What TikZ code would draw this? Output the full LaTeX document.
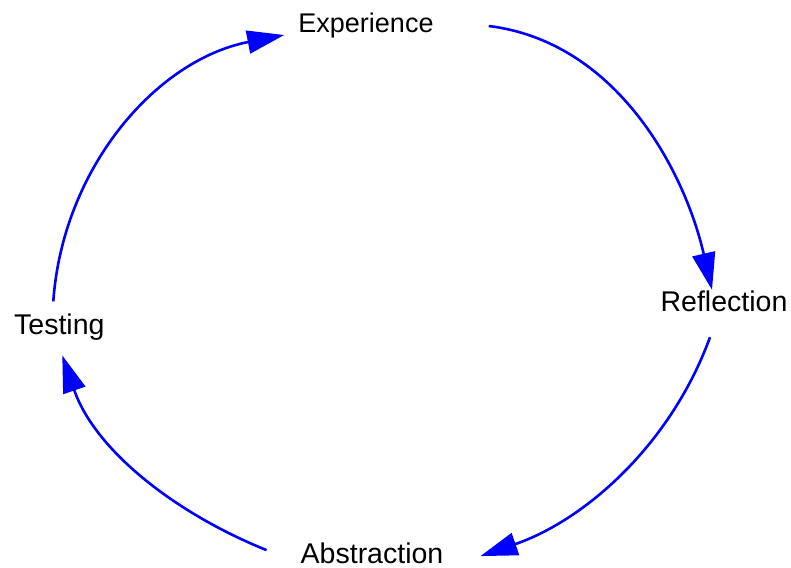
\documentclass[tikz,border=0pt]{standalone}
\usepackage{fontspec}
\setmainfont{Liberation Sans}
\usetikzlibrary{arrows.meta}

\begin{document}
\begin{tikzpicture}[x=1pt,y=1pt,>={Triangle[length=37pt,width=23pt]},
  lbl/.style={inner sep=0pt,anchor=base,font=\fontsize{28.5}{34}\selectfont},
  cyc/.style={->,blue,line width=2.6pt}]
\useasboundingbox (0,0) rectangle (791,567);
\node[lbl,font=\fontsize{27}{32}\selectfont] (exp) at (366,534) {Experience};
\node[lbl] (ref) at (724,255.3) {Reflection};
\node[lbl] (abs) at (372,3.7) {Abstraction};
\node[lbl] (tst) at (59.3,232.7) {Testing};
% the four arcs of the cycle
\draw[cyc] ([xshift=55]exp.east)
  .. controls +(-7:128) and +(103:124) .. ([shift={(-12,1)}]ref.north);
\draw[cyc] ([shift={(-14,-25)}]ref.south)
  .. controls +(250:114) and +(19:111) .. ([shift={(37,-3)}]abs.east);
\draw[cyc] ([shift={(-34,3)}]abs.west)
  .. controls +(158:101) and +(-71:99) .. ([shift={(3,-15)}]tst.south);
\draw[cyc] ([shift={(-6,12)}]tst.north)
  .. controls +(86:133) and +(191:131) .. ([shift={(-14,-9)}]exp.west);
\end{tikzpicture}
\end{document}
